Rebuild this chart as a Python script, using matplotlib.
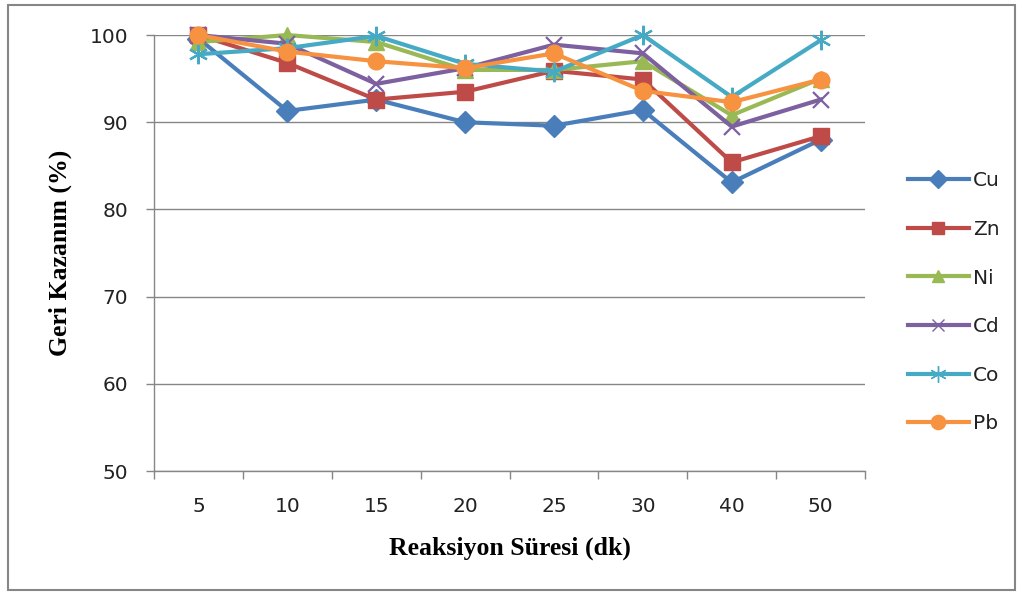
import matplotlib
matplotlib.use("Agg")
import matplotlib.pyplot as plt
from matplotlib.patches import Rectangle
from matplotlib.lines import Line2D

# Reaction time categories (minutes)
times = ["5", "10", "15", "20", "25", "30", "40", "50"]

# Recovery (%) for each metal
cu = [99.6, 91.3, 92.6, 90.0, 89.6, 91.4, 83.1, 88.0]
zn = [100.0, 96.8, 92.6, 93.5, 95.9, 94.9, 85.4, 88.4]
ni = [99.2, 100.0, 99.2, 96.0, 96.0, 97.0, 90.8, 95.0]
cd = [100.0, 99.0, 94.4, 96.2, 98.9, 97.9, 89.5, 92.6]
co = [97.8, 98.5, 99.9, 96.7, 95.8, 100.0, 92.9, 99.4]
pb = [100.0, 98.1, 97.0, 96.2, 97.9, 93.6, 92.3, 94.9]

series = [
    ("Cu", cu, "#4A7EBB", "D", 11, 1.0),
    ("Zn", zn, "#BE4B48", "s", 11, 1.0),
    ("Ni", ni, "#98B954", "^", 11, 1.0),
    ("Cd", cd, "#7D60A0", "x", 11, 1.6),
    ("Co", co, "#46AAC5", (6, 2, 0), 14, 1.6),
    ("Pb", pb, "#F69240", "o", 12, 1.0),
]

fig = plt.figure(figsize=(10.22, 5.94), dpi=100)
ax = fig.add_axes([0.1507, 0.207, 0.6957, 0.734])

x = list(range(len(times)))
handles = []
for name, vals, col, mk, ms, mew in series:
    ax.plot(x, vals, color=col, lw=3.0, marker=mk, ms=ms,
            mfc=col, mec=col, mew=mew,
            solid_joinstyle="round", clip_on=False, zorder=3)
    handles.append(Line2D([], [], color=col, lw=3.0, marker=mk,
                          ms=ms * 0.85, mfc=col, mec=col, mew=1.0))

ax.set_ylim(50, 100)
ax.set_xlim(-0.5, len(times) - 0.5)
ax.set_yticks([50, 60, 70, 80, 90, 100])
ax.set_xticks([i - 0.5 for i in range(len(times) + 1)])
ax.set_xticklabels([])
ax.set_xticks(x, minor=True)
ax.set_xticklabels(times, minor=True)
tick_size = 14.5
ax.tick_params(axis="x", which="major", length=5.5, color="#868686", width=1)
ax.tick_params(axis="x", which="minor", length=0, pad=18.5, labelsize=tick_size,
               labelcolor="#222222")
ax.tick_params(axis="y", length=5.5, color="#868686", width=1,
               labelsize=tick_size, pad=13, labelcolor="#222222")

ax.grid(axis="y", color="#868686", lw=1)
ax.set_axisbelow(True)
for s in ("top", "right"):
    ax.spines[s].set_visible(False)
for s in ("left", "bottom"):
    ax.spines[s].set_color("#868686")
    ax.spines[s].set_linewidth(1)

label_font = dict(family="Liberation Serif", weight="bold", size=18.5)
ax.set_xlabel("Reaksiyon Süresi (dk)", labelpad=15, **label_font)
ax.set_ylabel("Geri Kazanım (%)", labelpad=13, **label_font)

leg = fig.legend(handles, [s[0] for s in series], loc="center left",
                 bbox_to_anchor=(0.871, 0.491), frameon=False,
                 fontsize=tick_size, handlelength=3.0, handletextpad=0.2,
                 labelspacing=1.47)
for t in leg.get_texts():
    t.set_color("#222222")

fig.patches.append(Rectangle((0.008, 0.006), 0.985, 0.986,
                             transform=fig.transFigure, fill=False,
                             edgecolor="#868686", lw=1.5))

fig.savefig("out.png", dpi=100)
